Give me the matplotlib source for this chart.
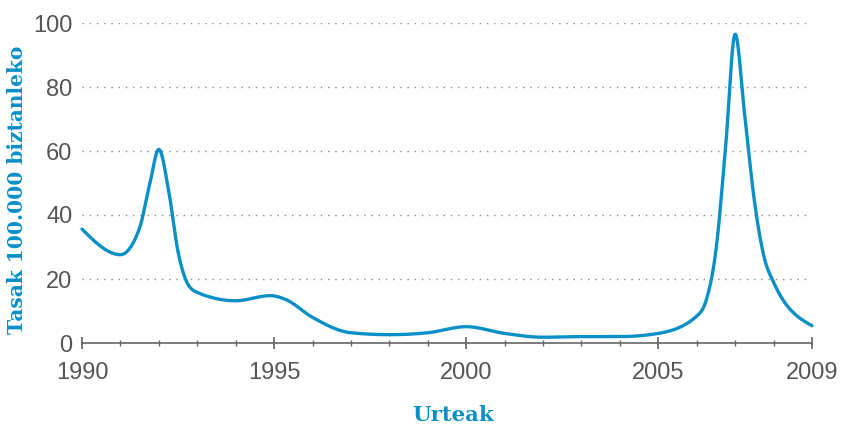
import numpy as np
import matplotlib
matplotlib.use("Agg")
import matplotlib.pyplot as plt

# Values (yearly, plus extra readings around the peaks)
years = [1990.0, 1991.0, 1991.5, 1991.75, 1992.0, 1992.25, 1992.5, 1992.75, 1993.0,
         1994.0, 1994.9, 1995.3, 1996.0, 1997.0, 1998.0, 1999.0, 2000.0, 2001.0,
         2002.0, 2003.0, 2004.0, 2005.0, 2006.0, 2006.25, 2006.5, 2006.75, 2007.0,
         2007.25, 2007.5, 2007.75, 2008.0, 2009.0]
rates = [35.6, 27.6, 36.0, 49.0, 60.5, 48.0, 28.5, 18.5, 15.8,
         13.2, 14.8, 13.6, 8.0, 3.2, 2.6, 3.2, 5.1, 3.0,
         1.8, 2.0, 2.0, 3.0, 8.4, 13.5, 29.0, 61.0, 96.5,
         71.0, 44.5, 27.0, 19.0, 5.4]
yticks = [0, 20, 40, 60, 80, 100]
xmajor = [1990, 1995, 2000, 2005, 2009]
xminor = list(range(1990, 2010))

BLUE = "#0a8fc8"
GRAY = "#555555"


def monotone_x(x, y, n=40):
    """d3 curveMonotoneX style interpolation."""
    x = np.asarray(x, float)
    y = np.asarray(y, float)
    h = np.diff(x)
    s = np.diff(y) / h
    t = np.zeros_like(y)
    for i in range(1, len(y) - 1):
        s0, s1 = s[i - 1], s[i]
        h0, h1 = h[i - 1], h[i]
        p = (s0 * h1 + s1 * h0) / (h0 + h1)
        t[i] = (np.sign(s0) + np.sign(s1)) * min(abs(s0), abs(s1), 0.5 * abs(p))
    t[0] = (3 * s[0] - t[1]) / 2
    t[-1] = (3 * s[-1] - t[-2]) / 2
    xs, ys = [], []
    for i in range(len(x) - 1):
        u = np.linspace(0, 1, n, endpoint=False)
        dx = h[i]
        h00 = 2 * u**3 - 3 * u**2 + 1
        h10 = u**3 - 2 * u**2 + u
        h01 = -2 * u**3 + 3 * u**2
        h11 = u**3 - u**2
        xs.append(x[i] + u * dx)
        ys.append(h00 * y[i] + h10 * dx * t[i] + h01 * y[i + 1] + h11 * dx * t[i + 1])
    xs.append([x[-1]])
    ys.append([y[-1]])
    return np.concatenate(xs), np.concatenate(ys)


fig = plt.figure(figsize=(8.43, 4.28), dpi=100)
ax = fig.add_axes([82 / 843, 1 - 343 / 428, 730 / 843, 320 / 428])

xs, ys = monotone_x(years, rates)
ax.plot(xs, ys, color=BLUE, lw=2.4, solid_capstyle="round", solid_joinstyle="round",
        clip_on=False, zorder=3)

ax.set_xlim(1990, 2009)
ax.set_ylim(0, 100)

for v in yticks[1:]:
    ax.axhline(v, color="#8a8a8a", lw=1.0, linestyle=(0, (1, 4.2)), zorder=1)

for sp in ["top", "right", "left"]:
    ax.spines[sp].set_visible(False)
ax.spines["bottom"].set_color("#666666")
ax.spines["bottom"].set_linewidth(1.2)

ax.set_yticks(yticks)
ax.set_yticklabels([str(v) for v in yticks])
ax.tick_params(axis="y", length=0, pad=7, labelsize=17, labelcolor=GRAY)

ax.set_xticks(xmajor)
ax.set_xticklabels([str(v) for v in xmajor])
ax.set_xticks(xminor, minor=True)
ax.tick_params(axis="x", which="major", direction="inout", length=8, width=1.2,
               color="#666666", labelsize=17, labelcolor=GRAY, pad=10)
ax.tick_params(axis="x", which="minor", direction="inout", length=5, width=1.0,
               color="#666666")

for lab in ax.get_xticklabels() + ax.get_yticklabels():
    lab.set_family(["Liberation Sans", "DejaVu Sans"])

fig.text(17 / 843, 1 - 190 / 428, "Tasak 100.000 biztanleko", rotation=90,
         ha="center", va="center", color=BLUE, fontsize=14.5, fontweight="bold",
         family=["DejaVu Serif"])
fig.text(453 / 843, 1 - 415 / 428, "Urteak", ha="center", va="center",
         color=BLUE, fontsize=15.3, fontweight="bold", family=["DejaVu Serif"])

fig.savefig("out.png", dpi=100)
